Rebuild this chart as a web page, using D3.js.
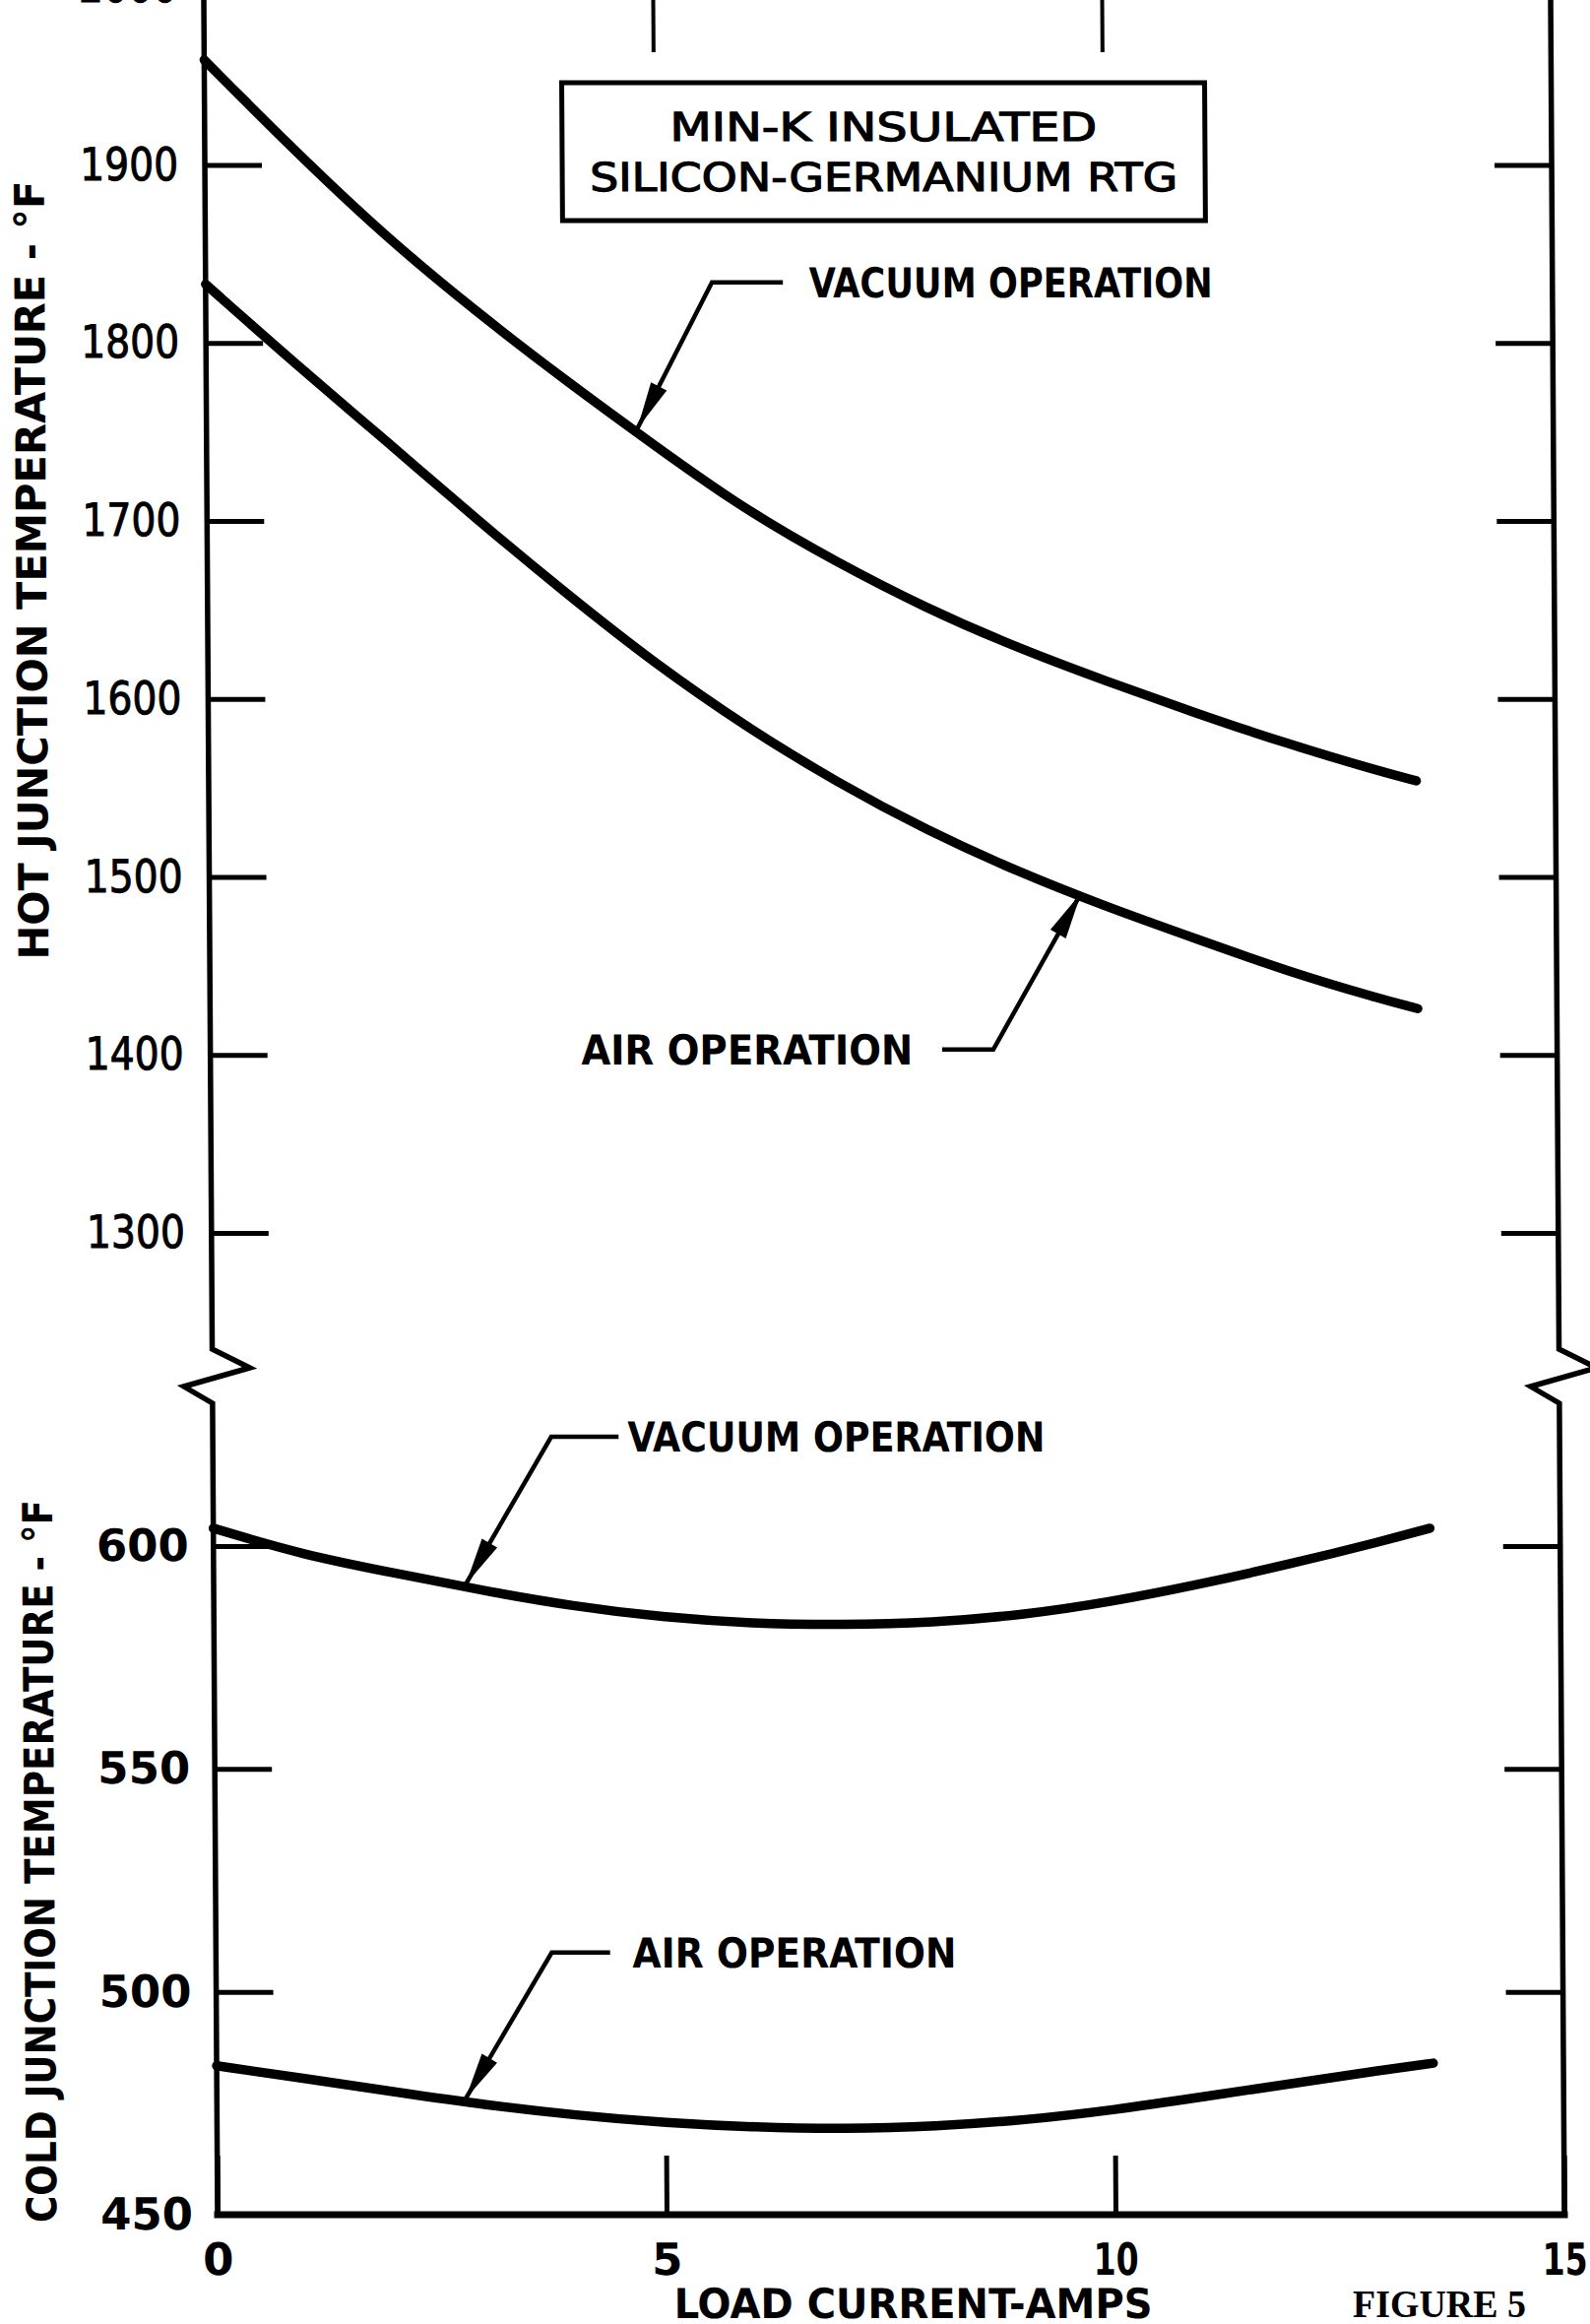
<!DOCTYPE html>
<html>
<head>
  <meta charset="utf-8">
  <title>Min-K Insulated Silicon-Germanium RTG</title>
  <script src="https://d3js.org/d3.v7.min.js"></script>
  <style>
    body, html {
      margin: 0;
      padding: 0;
      background: #fff;
      overflow: hidden;
    }
    svg {
      display: block;
      background: #fff;
    }
    .tick line {
      stroke: #000;
      stroke-width: 5;
    }
    .tick text {
      fill: #000;
      font-family: "DejaVu Sans", sans-serif;
    }
  </style>
</head>
<body>
  <svg id="chart"></svg>

  <script>
    // values
    var hotAmps = [0, 1, 2, 3, 4, 5, 6, 7, 8, 9, 10, 11, 12, 13, 13.45];
    var hotVacuum = [1959, 1908, 1860, 1818, 1779, 1742, 1706, 1677, 1651, 1629, 1610, 1592, 1575, 1560, 1554];
    var hotAir = [1833, 1788, 1745, 1701, 1659, 1619, 1584, 1553, 1526, 1503, 1483, 1465, 1447, 1432, 1426];

    var coldAmps = [0, 1, 2, 3, 4, 5, 6, 7, 8, 9, 10, 11, 12, 13, 13.55];
    var coldVacuum = [604, 598, 594, 590, 586.5, 584, 582.6, 582.3, 582.8, 584.5, 587.5, 591.5, 596, 601, 604];
    var coldAir = [483.4, 480.5, 477.5, 474.6, 472.3, 470.6, 469.6, 469.2, 469.8, 471.2, 473.5, 476.5, 479.5, 482.5, 484];

    var hotTicks = [1300, 1400, 1500, 1600, 1700, 1800, 1900, 2000];
    var coldTicks = [450, 500, 550, 600];
    var ampTicks = [0, 5, 10, 15];

    // callouts: arrow tip on the curve, elbow of the leader, end of the leader, text start
    var callouts = [
      { label: "VACUUM OPERATION", part: "hot", tip: [4.8, 1752], elbow: [5.64, 1834], end: [6.43, 1834], at: [6.72, 1834], len: 410 },
      { label: "AIR OPERATION", part: "hot", tip: [9.71, 1491], elbow: [8.72, 1403], end: [8.15, 1403], at: [4.13, 1403], len: 337 },
      { label: "VACUUM OPERATION", part: "cold", tip: [2.81, 591.5], elbow: [3.77, 624.5], end: [4.52, 624.5], at: [4.62, 624.5], len: 424 },
      { label: "AIR OPERATION", part: "cold", tip: [2.77, 476], elbow: [3.74, 508.8], end: [4.39, 508.8], at: [4.64, 508.8], len: 329 }
    ];

    var width = 1615, height = 2360;

    var svg = d3.select("#chart")
      .attr("width", width)
      .attr("height", height);

    // the scan leans a little: vertical lines drift right going down
    var yc = 1125;
    var skew = Math.atan(0.00622) * 180 / Math.PI;
    var g = svg.append("g")
      .attr("transform", "translate(0," + yc + ") skewX(" + skew + ") translate(0," + (-yc) + ")");

    var x = d3.scaleLinear().domain([0, 15]).range([214, 1582]);
    var yHot = d3.scaleLinear().domain([1300, 1900]).range([1252, 167.5]);
    var yCold = d3.scaleLinear().domain([450, 600]).range([2249, 1570]);

    var brk = [1370, 1389, 1408, 1425];

    // axis frame with the break marks
    function sideAxis(x0) {
      return [[x0, -40], [x0, brk[0]], [x0 + 38, brk[1]], [x0 - 29, brk[2]], [x0, brk[3]], [x0, yCold(450)]];
    }
    var line = d3.line();
    g.append("path")
      .attr("d", line(sideAxis(x(0))))
      .attr("fill", "none").attr("stroke", "#000").attr("stroke-width", 5.5)
      .attr("stroke-linejoin", "miter");
    g.append("path")
      .attr("d", line(sideAxis(x(15))))
      .attr("fill", "none").attr("stroke", "#000").attr("stroke-width", 5.5)
      .attr("stroke-linejoin", "miter");
    g.append("path")
      .attr("d", line([[x(0), yCold(450)], [x(15), yCold(450)]]))
      .attr("stroke", "#000").attr("stroke-width", 7).attr("stroke-linecap", "square");

    // hot axis, left with labels, right bare
    var hotL = g.append("g")
      .attr("transform", "translate(" + x(0) + ",0)")
      .call(d3.axisLeft(yHot).tickValues(hotTicks).tickSizeInner(-58).tickSizeOuter(0).tickPadding(27).tickFormat(d3.format("d")));
    hotL.select(".domain").remove();
    hotL.selectAll("text")
      .style("font-size", "46px")
      .style("stroke", "#000")
      .style("stroke-width", 1)
      .attr("textLength", 100)
      .attr("lengthAdjust", "spacingAndGlyphs");

    var hotR = g.append("g")
      .attr("transform", "translate(" + x(15) + ",0)")
      .call(d3.axisRight(yHot).tickValues(hotTicks.slice(0, 7)).tickSizeInner(-58).tickSizeOuter(0).tickFormat(""));
    hotR.select(".domain").remove();

    // cold axis
    var coldL = g.append("g")
      .attr("transform", "translate(" + x(0) + ",0)")
      .call(d3.axisLeft(yCold).tickValues(coldTicks).tickSizeInner(-58).tickSizeOuter(0).tickPadding(25));
    coldL.select(".domain").remove();
    coldL.selectAll("text")
      .style("font-size", "45px")
      .style("font-weight", "bold");

    var coldR = g.append("g")
      .attr("transform", "translate(" + x(15) + ",0)")
      .call(d3.axisRight(yCold).tickValues(coldTicks.slice(1)).tickSizeInner(-58).tickSizeOuter(0).tickFormat(""));
    coldR.select(".domain").remove();

    // x axis, bottom with labels, top bare
    var xB = g.append("g")
      .attr("transform", "translate(0," + yCold(450) + ")")
      .call(d3.axisBottom(x).tickValues(ampTicks).tickSizeInner(-60).tickSizeOuter(0).tickPadding(29));
    xB.select(".domain").remove();
    xB.selectAll("text")
      .style("font-size", "45px")
      .style("font-weight", "bold")
      .filter(function(d) { return d >= 10; })
      .attr("textLength", 46)
      .attr("lengthAdjust", "spacingAndGlyphs");

    var xT = g.append("g")
      .attr("transform", "translate(0,-5)")
      .call(d3.axisTop(x).tickValues([5, 10]).tickSizeInner(-58).tickSizeOuter(0).tickFormat(""));
    xT.select(".domain").remove();
    xT.selectAll(".tick line").style("stroke-width", 4);

    // curves
    function drawCurve(xs, ys, yScale) {
      var pts = xs.map(function(a, i) { return [x(a), yScale(ys[i])]; });
      g.append("path")
        .attr("d", d3.line().curve(d3.curveBasis)(pts))
        .attr("fill", "none")
        .attr("stroke", "#000")
        .attr("stroke-width", 9.5)
        .attr("stroke-linecap", "round");
    }
    drawCurve(hotAmps, hotVacuum, yHot);
    drawCurve(hotAmps, hotAir, yHot);
    drawCurve(coldAmps, coldVacuum, yCold);
    drawCurve(coldAmps, coldAir, yCold);

    // callouts with leaders and arrow heads
    callouts.forEach(function(c) {
      var ys = c.part === "hot" ? yHot : yCold;
      var P = function(p) { return [x(p[0]), ys(p[1])]; };
      var tip = P(c.tip), elbow = P(c.elbow), end = P(c.end), at = P(c.at);

      g.append("path")
        .attr("d", line([end, elbow, tip]))
        .attr("fill", "none").attr("stroke", "#000").attr("stroke-width", 4.5)
        .attr("stroke-linejoin", "miter");

      var dx = tip[0] - elbow[0], dy = tip[1] - elbow[1];
      var L = Math.sqrt(dx * dx + dy * dy);
      var ux = dx / L, uy = dy / L;
      var bx = tip[0] - 48 * ux, by = tip[1] - 48 * uy;
      g.append("path")
        .attr("d", line([tip, [bx - 9 * uy, by + 9 * ux], [bx + 9 * uy, by - 9 * ux]]) + "Z")
        .attr("fill", "#000");

      g.append("text")
        .attr("x", at[0])
        .attr("y", at[1] + 0.3645 * 42)
        .attr("textLength", c.len)
        .attr("lengthAdjust", "spacingAndGlyphs")
        .style("font-family", "'DejaVu Sans Condensed', 'DejaVu Sans', sans-serif")
        .style("font-weight", "bold")
        .style("font-size", "42px")
        .text(c.label);
    });

    // title box
    g.append("rect")
      .attr("x", 577).attr("y", 84)
      .attr("width", 653).attr("height", 140)
      .attr("fill", "#fff").attr("stroke", "#000").attr("stroke-width", 5);

    var boxLines = [["MIN-K INSULATED", 128, 434], ["SILICON-GERMANIUM RTG", 179, 597]];
    boxLines.forEach(function(b) {
      g.append("text")
        .attr("x", 903.5)
        .attr("y", b[1] + 0.3645 * 40)
        .attr("text-anchor", "middle")
        .attr("textLength", b[2])
        .attr("lengthAdjust", "spacingAndGlyphs")
        .style("font-family", "'DejaVu Sans', sans-serif")
        .style("font-size", "40px")
        .style("stroke", "#000").style("stroke-width", 1.2)
        .text(b[0]);
    });

    // axis titles
    function sideTitle(txt, cy, len) {
      g.append("text")
        .attr("transform", "translate(" + (35 + 0.3645 * 42) + "," + cy + ") rotate(-90)")
        .attr("text-anchor", "middle")
        .attr("textLength", len)
        .attr("lengthAdjust", "spacingAndGlyphs")
        .style("font-family", "'DejaVu Sans', sans-serif")
        .style("font-weight", "bold")
        .style("font-size", "42px")
        .text(txt);
    }
    sideTitle("HOT JUNCTION TEMPERATURE - \u00B0F", 579, 791);
    sideTitle("COLD JUNCTION TEMPERATURE - \u00B0F", 1890, 734);

    g.append("text")
      .attr("x", 920)
      .attr("y", 2339 + 0.3645 * 42)
      .attr("text-anchor", "middle")
      .attr("textLength", 486)
      .attr("lengthAdjust", "spacingAndGlyphs")
      .style("font-family", "'DejaVu Sans Condensed', 'DejaVu Sans', sans-serif")
      .style("font-weight", "bold")
      .style("font-size", "42px")
      .text("LOAD CURRENT-AMPS");

    svg.append("text")
      .attr("x", 1374)
      .attr("y", 2353)
      .attr("textLength", 176)
      .attr("lengthAdjust", "spacingAndGlyphs")
      .style("font-family", "'Liberation Serif', 'DejaVu Serif', serif")
      .style("font-weight", "bold")
      .style("font-size", "40px")
      .text("FIGURE 5");
  </script>
</body>
</html>
